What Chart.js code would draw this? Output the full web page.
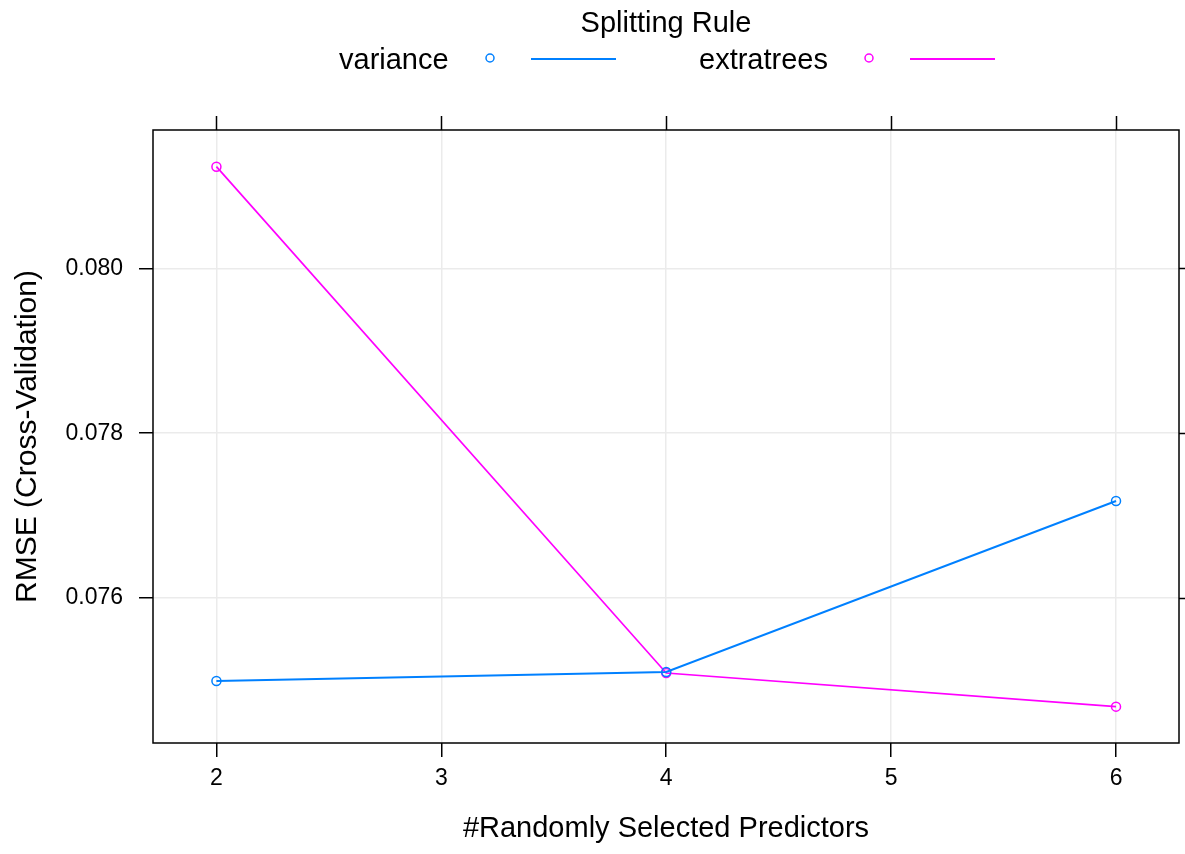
<!DOCTYPE html>
<html>
<head>
<meta charset="utf-8">
<script src="https://cdn.jsdelivr.net/npm/chart.js@4.4.1/dist/chart.umd.min.js"></script>
<style>
  html, body { margin: 0; padding: 0; background: #fff; }
  #wrap { width: 1185px; height: 854px; position: relative; }
</style>
</head>
<body>
<div id="wrap"><canvas id="rmse-chart" width="1185" height="854"></canvas></div>
<script>
// --- data ---
const predictors = [2, 4, 6];
const varianceRMSE = [0.074993, 0.075102, 0.077177];
const extratreesRMSE = [0.081233, 0.075090, 0.074682];
const xTicks = [2, 3, 4, 5, 6];
const yTicks = [0.076, 0.078, 0.080];
const xRange = [1.718, 6.28];
const yRange = [0.074241, 0.081678];

const BLUE = '#0080ff';
const MAGENTA = '#ff00ff';
const FONT = "'Liberation Sans', Arial, sans-serif";

const toPoints = (xs, ys) => xs.map((x, i) => ({ x: x, y: ys[i] }));

// frame, top/right ticks and the lattice-style key
const latticePlugin = {
    id: 'lattice',
    afterDraw(chart) {
        const { ctx, chartArea: a, scales } = chart;
        ctx.save();
        ctx.strokeStyle = '#000';
        ctx.lineWidth = 1.5;
        ctx.strokeRect(a.left, a.top, a.right - a.left, a.bottom - a.top);

        ctx.beginPath();
        xTicks.forEach(v => {
            const px = Math.round(scales.x.getPixelForValue(v)) + 0.5;
            ctx.moveTo(px, a.top);
            ctx.lineTo(px, a.top - 14);
        });
        yTicks.forEach(v => {
            const py = Math.round(scales.y.getPixelForValue(v)) + 0.5;
            ctx.moveTo(a.right, py);
            ctx.lineTo(a.right + 14, py);
        });
        ctx.stroke();

        // key
        const cx = (a.left + a.right) / 2;
        ctx.fillStyle = '#000';
        ctx.font = `29px ${FONT}`;
        ctx.textAlign = 'center';
        ctx.textBaseline = 'middle';
        ctx.fillText('Splitting Rule', cx, 24);

        const keys = [
            { label: 'variance', color: BLUE, textX: cx - 327, ptX: cx - 176 },
            { label: 'extratrees', color: MAGENTA, textX: cx + 33, ptX: cx + 203 }
        ];
        ctx.textAlign = 'left';
        keys.forEach(k => {
            ctx.fillStyle = '#000';
            ctx.fillText(k.label, k.textX, 61);
            ctx.strokeStyle = k.color;
            ctx.lineWidth = 1.5;
            ctx.beginPath();
            ctx.arc(k.ptX, 58, 4, 0, Math.PI * 2);
            ctx.stroke();
            ctx.lineWidth = 2;
            ctx.beginPath();
            ctx.moveTo(k.ptX + 41, 59);
            ctx.lineTo(k.ptX + 126, 59);
            ctx.stroke();
        });
        ctx.restore();
    }
};

new Chart(document.getElementById('rmse-chart'), {
    type: 'line',
    data: {
        datasets: [
            {
                label: 'variance',
                data: toPoints(predictors, varianceRMSE),
                borderColor: BLUE,
                borderWidth: 2,
                pointStyle: 'circle',
                pointRadius: 4.5,
                pointBorderWidth: 1.5,
                pointBorderColor: BLUE,
                pointBackgroundColor: 'rgba(0,0,0,0)',
                tension: 0
            },
            {
                label: 'extratrees',
                data: toPoints(predictors, extratreesRMSE),
                borderColor: MAGENTA,
                borderWidth: 1.7,
                pointStyle: 'circle',
                pointRadius: 4.5,
                pointBorderWidth: 1.5,
                pointBorderColor: MAGENTA,
                pointBackgroundColor: 'rgba(0,0,0,0)',
                tension: 0
            }
        ]
    },
    options: {
        responsive: false,
        animation: false,
        devicePixelRatio: 1,
        layout: { padding: { top: 130, right: 5, left: 0, bottom: 0 } },
        plugins: {
            legend: { display: false },
            title: { display: false },
            tooltip: { enabled: false }
        },
        scales: {
            x: {
                type: 'linear',
                min: xRange[0],
                max: xRange[1],
                afterBuildTicks: s => { s.ticks = xTicks.map(v => ({ value: v })); },
                afterFit: s => { s.height = 111; },
                grid: { color: '#ebebeb', tickColor: '#000', tickLength: 14, lineWidth: 1.5, tickWidth: 1.5 },
                border: { display: false },
                ticks: {
                    color: '#000',
                    font: { family: FONT, size: 23 },
                    padding: 8,
                    maxRotation: 0,
                    callback: v => String(v)
                },
                title: {
                    display: true,
                    text: '#Randomly Selected Predictors',
                    color: '#000',
                    font: { family: FONT, size: 29 },
                    padding: { top: 0, bottom: 8 }
                }
            },
            y: {
                type: 'linear',
                min: yRange[0],
                max: yRange[1],
                afterBuildTicks: s => { s.ticks = yTicks.map(v => ({ value: v })); },
                afterFit: s => { s.width = 153; },
                grid: { color: '#ebebeb', tickColor: '#000', tickLength: 14, lineWidth: 1.5, tickWidth: 1.5 },
                border: { display: false },
                ticks: {
                    color: '#000',
                    font: { family: FONT, size: 23 },
                    padding: 16,
                    callback: v => v.toFixed(3)
                },
                title: {
                    display: true,
                    text: 'RMSE (Cross-Validation)',
                    color: '#000',
                    font: { family: FONT, size: 30 },
                    padding: { top: 10, bottom: 0 }
                }
            }
        }
    },
    plugins: [latticePlugin]
});
</script>
</body>
</html>
